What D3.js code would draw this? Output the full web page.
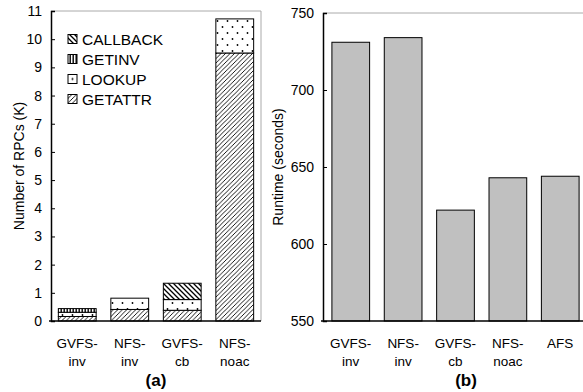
<!DOCTYPE html>
<html><head><meta charset="utf-8">
<script src="https://cdn.jsdelivr.net/npm/d3@7"></script>
<style>
body{margin:0;background:#fff;}
text{font-family:"Liberation Sans",Arial,Helvetica,sans-serif;fill:#000;}
</style></head>
<body><svg id="c" width="583" height="392"></svg>
<script>
// ---- Data ----
const rpcCategories = [["GVFS-","inv"],["NFS-","inv"],["GVFS-","cb"],["NFS-","noac"]];
const rpcTypes = ["GETATTR","LOOKUP","GETINV","CALLBACK"];
const getattrVals  = [0.16, 0.41, 0.38, 9.51];
const lookupVals   = [0.15, 0.40, 0.38, 1.21];
const getinvVals   = [0.13, 0, 0, 0];
const callbackVals = [0, 0, 0.58, 0];
const rpcTicks = [0,1,2,3,4,5,6,7,8,9,10,11];

const rtCategories = [["GVFS-","inv"],["NFS-","inv"],["GVFS-","cb"],["NFS-","noac"],["AFS",""]];
const runtimeVals = [731, 734, 622, 643, 644];
const rtTicks = [550,600,650,700,750];

const svg = d3.select("#c");
const defs = svg.append("defs");
// patterns
const pGet = defs.append("pattern").attr("id","pGETATTR").attr("patternUnits","userSpaceOnUse").attr("width",4.5).attr("height",4.5);
pGet.append("rect").attr("width",4.5).attr("height",4.5).attr("fill","#fff");
pGet.append("path").attr("d","M-1,1 L1,-1 M0,4.5 L4.5,0 M3.5,5.5 L5.5,3.5").attr("stroke","#000").attr("stroke-width",0.9);
const pLk = defs.append("pattern").attr("id","pLOOKUP").attr("patternUnits","userSpaceOnUse").attr("width",10).attr("height",12);
pLk.append("rect").attr("width",10).attr("height",12).attr("fill","#fff");
pLk.append("circle").attr("cx",2.5).attr("cy",3).attr("r",0.9).attr("fill","#000");
pLk.append("circle").attr("cx",7.5).attr("cy",9).attr("r",0.9).attr("fill","#000");
const pInv = defs.append("pattern").attr("id","pGETINV").attr("patternUnits","userSpaceOnUse").attr("width",3).attr("height",3);
pInv.append("rect").attr("width",3).attr("height",3).attr("fill","#fff");
pInv.append("rect").attr("x",0.5).attr("width",1.4).attr("height",3).attr("fill","#000");
const pCb = defs.append("pattern").attr("id","pCALLBACK").attr("patternUnits","userSpaceOnUse").attr("width",5).attr("height",5);
pCb.append("rect").attr("width",5).attr("height",5).attr("fill","#fff");
pCb.append("path").attr("d","M-1,4 L1,6 M0,0 L5,5 M4,-1 L6,1").attr("stroke","#000").attr("stroke-width",1.3);
// legend-specific simple swatch patterns
const lLk = defs.append("pattern").attr("id","lLOOKUP").attr("patternUnits","objectBoundingBox").attr("width",1).attr("height",1);
lLk.append("rect").attr("width",9).attr("height",9).attr("fill","#fff");
lLk.append("circle").attr("cx",4.5).attr("cy",4.5).attr("r",1).attr("fill","#000");

// ---------- Panel (a) ----------
const aL=51, aR=261, aT=11, aB=321;
const ya = d3.scaleLinear().domain([0,11]).range([aB,aT]);
const xa = d3.scaleBand().domain(d3.range(rpcCategories.length)).range([aL,aR]).paddingInner(0.28).paddingOuter(0.14);
const rows = rpcCategories.map((c,i)=>({i, GETATTR:getattrVals[i], LOOKUP:lookupVals[i], GETINV:getinvVals[i], CALLBACK:callbackVals[i]}));
const stacked = d3.stack().keys(rpcTypes)(rows);
// frame
svg.append("line").attr("x1",aL).attr("x2",aR).attr("y1",aT).attr("y2",aT).attr("stroke","#aaa");
svg.append("line").attr("x1",aR).attr("x2",aR).attr("y1",aT).attr("y2",aB).attr("stroke","#aaa");
stacked.forEach(s=>{
  svg.append("g").selectAll("rect").data(s.filter(d=>d[1]-d[0]>0)).join("rect")
    .attr("x",d=>xa(d.data.i)).attr("width",xa.bandwidth())
    .attr("y",d=>ya(d[1])).attr("height",d=>ya(d[0])-ya(d[1]))
    .attr("fill","url(#p"+s.key+")").attr("stroke","#000").attr("stroke-width",1);
});
const axA = svg.append("g").attr("transform",`translate(${aL},0)`)
  .call(d3.axisLeft(ya).tickValues(rpcTicks).tickSize(-4).tickPadding(9).tickFormat(d3.format("d")));
axA.select(".domain").attr("stroke-width",1.5);
axA.selectAll("text").attr("font-size",14).attr("font-family","'Liberation Sans',Arial,sans-serif");
svg.append("line").attr("x1",aL-2).attr("x2",aR).attr("y1",aB).attr("y2",aB).attr("stroke","#000").attr("stroke-width",1.5);
// x labels
rpcCategories.forEach((c,i)=>{
  const cx = xa(i)+xa.bandwidth()/2;
  svg.append("text").attr("x",cx).attr("y",348).attr("text-anchor","middle").attr("font-size",13.5).text(c[0]);
  svg.append("text").attr("x",cx).attr("y",366).attr("text-anchor","middle").attr("font-size",13.5).text(c[1]);
});
svg.append("text").attr("x",(aL+aR)/2).attr("y",386).attr("text-anchor","middle").attr("font-size",17).attr("font-weight","bold").text("(a)");
svg.append("text").attr("transform",`translate(18.5,${(aT+aB)/2}) rotate(-90)`).attr("text-anchor","middle").attr("dominant-baseline","central").attr("font-size",14).text("Number of RPCs (K)");
// legend
const legOrder = ["CALLBACK","GETINV","LOOKUP","GETATTR"];
legOrder.forEach((k,j)=>{
  const y = 39 + j*20;
  const fill = k==="LOOKUP" ? "url(#lLOOKUP)" : "url(#p"+k+")";
  svg.append("rect").attr("x",68).attr("y",y-4.5).attr("width",9).attr("height",9).attr("fill",fill).attr("stroke","#000").attr("stroke-width",1);
  svg.append("text").attr("x",82).attr("y",y).attr("dominant-baseline","central").attr("font-size",15.5).text(k);
});

// ---------- Panel (b) ----------
const bL=323, bR=588, bT=13, bB=321;
const yb = d3.scaleLinear().domain([550,750]).range([bB,bT]);
const xb = d3.scaleBand().domain(d3.range(rtCategories.length)).range([bL,bR]).paddingInner(0.28).paddingOuter(0.17);
svg.append("line").attr("x1",bL).attr("x2",bR).attr("y1",bT).attr("y2",bT).attr("stroke","#aaa");
svg.append("line").attr("x1",bR).attr("x2",bR).attr("y1",bT).attr("y2",bB).attr("stroke","#aaa");
svg.append("g").selectAll("rect").data(runtimeVals).join("rect")
  .attr("x",(d,i)=>xb(i)).attr("width",xb.bandwidth())
  .attr("y",d=>yb(d)).attr("height",d=>yb(550)-yb(d))
  .attr("fill","#c0c0c0").attr("stroke","#000").attr("stroke-width",1);
const axB = svg.append("g").attr("transform",`translate(${bL},0)`)
  .call(d3.axisLeft(yb).tickValues(rtTicks).tickSize(-4).tickPadding(9).tickFormat(d3.format("d")));
axB.select(".domain").attr("stroke-width",1.5);
axB.selectAll("text").attr("font-size",14).attr("font-family","'Liberation Sans',Arial,sans-serif");
svg.append("line").attr("x1",bL-2).attr("x2",bR).attr("y1",bB).attr("y2",bB).attr("stroke","#000").attr("stroke-width",1.5);
rtCategories.forEach((c,i)=>{
  const cx = xb(i)+xb.bandwidth()/2;
  svg.append("text").attr("x",cx).attr("y",348).attr("text-anchor","middle").attr("font-size",13.5).text(c[0]);
  if(c[1]) svg.append("text").attr("x",cx).attr("y",366).attr("text-anchor","middle").attr("font-size",13.5).text(c[1]);
});
svg.append("text").attr("x",466).attr("y",386).attr("text-anchor","middle").attr("font-size",17).attr("font-weight","bold").text("(b)");
svg.append("text").attr("transform",`translate(277.5,${(bT+bB)/2}) rotate(-90)`).attr("text-anchor","middle").attr("dominant-baseline","central").attr("font-size",14).text("Runtime (seconds)");
</script></body></html>
